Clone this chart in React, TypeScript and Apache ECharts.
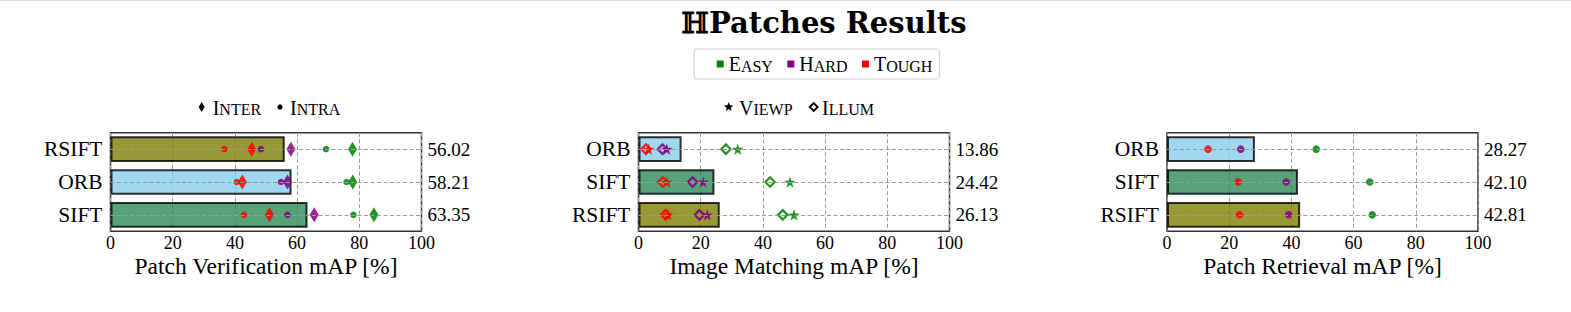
import React, { useEffect, useRef } from "react";
import * as echarts from "echarts";

// ---------- data (categories listed bottom -> top, as the category axis draws them) ----------
const verifCats = ["SIFT", "ORB", "RSIFT"];
const verifMean = [63.35, 58.21, 56.02];
const verifInterEasy = [84.7, 77.9, 77.8];
const verifInterHard = [65.5, 56.9, 58.0];
const verifInterTough = [51.1, 42.4, 45.4];
const verifIntraEasy = [78.1, 75.9, 69.3];
const verifIntraHard = [56.9, 54.8, 48.4];
const verifIntraTough = [42.9, 40.6, 36.6];

const matchCats = ["RSIFT", "SIFT", "ORB"];
const matchMean = [26.13, 24.42, 13.86];
const matchViewpEasy = [50.0, 48.7, 31.9];
const matchViewpHard = [22.1, 20.8, 9.1];
const matchViewpTough = [9.4, 9.1, 3.2];
const matchIllumEasy = [46.4, 42.3, 28.1];
const matchIllumHard = [19.6, 17.4, 7.7];
const matchIllumTough = [8.7, 7.8, 2.4];

const retrCats = ["RSIFT", "SIFT", "ORB"];
const retrMean = [42.81, 42.1, 28.27];
const retrEasy = [66.0, 65.2, 48.0];
const retrHard = [39.1, 38.3, 23.7];
const retrTough = [23.3, 22.9, 13.2];

const xTicks = [0, 20, 40, 60, 80, 100];
const axisNames = ["Patch Verification mAP [%]", "Image Matching mAP [%]", "Patch Retrieval mAP [%]"];
const legendNames = ["Easy", "Hard", "Tough"];

// ---------- styles ----------
const METHOD_COLORS: Record<string, string> = { RSIFT: "#808000", ORB: "#87CEEB", SIFT: "#2E8B57" };
const LEVEL_COLORS = ["#008000", "#800080", "#ff0000"];
const SERIF = "'Liberation Serif', 'Times New Roman', serif";
const GRID_LEFTS = [110.5, 638.5, 1167];
const GRID_W = 311;
const GRID_TOP = 132.7;
const GRID_H = 98.6;
const GRID_LINE = "#9a9a9a";
const STAR =
  "path://M0,-1L0.2245,-0.309L0.951,-0.309L0.363,0.118L0.588,0.809L0,0.382L-0.588,0.809L-0.363,0.118L-0.951,-0.309L-0.2245,-0.309Z";

const smallCaps = (s: string) => `{a|${s[0]}}{b|${s.slice(1).toUpperCase()}}`;
const scRich = {
  a: { fontFamily: SERIF, fontSize: 20, color: "#000", lineHeight: 20, verticalAlign: "bottom" },
  b: { fontFamily: SERIF, fontSize: 16, color: "#000", lineHeight: 20, verticalAlign: "bottom" },
};

export default function App() {
  const ref = useRef<HTMLDivElement>(null);

  useEffect(() => {
    if (!ref.current) return;
    const chart = echarts.init(ref.current, null, { renderer: "svg" });

    const panels = [
      { cats: verifCats, mean: verifMean },
      { cats: matchCats, mean: matchMean },
      { cats: retrCats, mean: retrMean },
    ];

    const grids = panels.map((_, p) => ({
      left: GRID_LEFTS[p],
      top: GRID_TOP,
      width: GRID_W,
      height: GRID_H,
      show: true,
      borderColor: "#333",
      borderWidth: 1.5,
      backgroundColor: "transparent",
    }));

    const xAxes = panels.map((_, p) => ({
      type: "value",
      gridIndex: p,
      min: xTicks[0],
      max: xTicks[xTicks.length - 1],
      interval: 20,
      name: `{n|${axisNames[p]}}`,
      nameLocation: "middle",
      nameGap: 23,
      nameTextStyle: {
        fontFamily: SERIF,
        fontSize: 23.5,
        color: "#000",
        rich: { n: { fontFamily: SERIF, fontSize: 23.5, color: "#000" } },
      },
      axisLine: { show: false },
      axisTick: { show: false },
      axisLabel: { fontFamily: SERIF, fontSize: 18, color: "#000", margin: 3 },
      splitLine: { show: true, lineStyle: { color: GRID_LINE, type: [4, 2.5], width: 1 } },
    }));

    const yAxes: any[] = [];
    panels.forEach((pn, p) => {
      yAxes.push({
        type: "category",
        gridIndex: p,
        data: pn.cats,
        axisLine: { show: false },
        axisTick: { show: false },
        splitLine: { show: false },
        axisLabel: { fontFamily: SERIF, fontSize: 21.5, color: "#000", margin: 8 },
      });
      yAxes.push({
        type: "category",
        gridIndex: p,
        position: "right",
        data: pn.mean.map((v) => v.toFixed(2)),
        axisLine: { show: false },
        axisTick: { show: false },
        splitLine: { show: false },
        axisLabel: { fontFamily: SERIF, fontSize: 19, color: "#000", margin: 6 },
      });
    });

    const series: any[] = [];
    const scatter = (p: number, name: string, vals: number[], color: string, symbol: string, size: any, extra: any = {}) => ({
      type: "scatter",
      name,
      xAxisIndex: p,
      yAxisIndex: 2 * p,
      symbol,
      symbolSize: size,
      data: vals.map((v, i) => [v, i]),
      itemStyle: { color, opacity: 0.85, ...extra },
      z: 4,
      silent: true,
    });

    panels.forEach((pn, p) => {
      // horizontal dashed grid lines at bar centres
      series.push({
        type: "scatter",
        xAxisIndex: p,
        yAxisIndex: 2 * p,
        data: [],
        z: 1,
        silent: true,
        markLine: {
          silent: true,
          symbol: ["none", "none"],
          label: { show: false },
          lineStyle: { color: GRID_LINE, type: [4, 2.5], width: 1 },
          data: pn.cats.map((_, i) => ({ yAxis: i })),
        },
      });
      series.push({
        type: "bar",
        xAxisIndex: p,
        yAxisIndex: 2 * p,
        barWidth: 25.6,
        z: 2,
        silent: true,
        data: pn.mean.map((v, i) => ({ value: v, itemStyle: { color: METHOD_COLORS[pn.cats[i]] } })),
        itemStyle: { borderColor: "#000", borderWidth: 2, opacity: 0.8 },
      });
    });

    // panel 1: Inter (thin diamond) and Intra (dot)
    const inter = [verifInterEasy, verifInterHard, verifInterTough];
    const intra = [verifIntraEasy, verifIntraHard, verifIntraTough];
    for (let k = 0; k < 3; k++) {
      series.push(scatter(0, legendNames[k], intra[k], LEVEL_COLORS[k], "circle", 6.5));
      series.push(scatter(0, legendNames[k], inter[k], LEVEL_COLORS[k], "diamond", [9, 15]));
    }
    // panel 2: Viewp (star) and Illum (open diamond)
    const viewp = [matchViewpEasy, matchViewpHard, matchViewpTough];
    const illum = [matchIllumEasy, matchIllumHard, matchIllumTough];
    for (let k = 0; k < 3; k++) {
      series.push(
        scatter(1, legendNames[k], illum[k], "rgba(255,255,255,0)", "diamond", 9.5, {
          borderColor: LEVEL_COLORS[k],
          borderWidth: 2.2,
        })
      );
      series.push(scatter(1, legendNames[k], viewp[k], LEVEL_COLORS[k], STAR, 11.5));
    }
    // panel 3: dots
    const retr = [retrEasy, retrHard, retrTough];
    for (let k = 0; k < 3; k++) {
      series.push(scatter(2, legendNames[k], retr[k], LEVEL_COLORS[k], "circle", 7.5));
    }

    const legendY = 107.5;
    const graphic: any[] = [
      { type: "line", shape: { x1: 0, y1: 0.5, x2: 1571, y2: 0.5 }, style: { stroke: "#dcdcdc", lineWidth: 1 } },
      // panel 1 marker legend
      {
        type: "polygon",
        shape: { points: [[198.7, legendY - 0.5], [201.7, legendY - 5.5], [204.7, legendY - 0.5], [201.7, legendY + 4.5]] },
        style: { fill: "#000" },
      },
      { type: "text", x: 212.7, y: legendY, style: { text: smallCaps("Inter"), rich: scRich, verticalAlign: "middle" } },
      { type: "circle", shape: { cx: 280, cy: legendY - 0.5, r: 2.6 }, style: { fill: "#000" } },
      { type: "text", x: 290, y: legendY, style: { text: smallCaps("Intra"), rich: scRich, verticalAlign: "middle" } },
      // panel 2 marker legend
      {
        type: "polygon",
        shape: {
          points: [0, 1, 2, 3, 4, 5, 6, 7, 8, 9].map((j) => {
            const r = j % 2 === 0 ? 5 : 2.1;
            const a = -Math.PI / 2 + (j * Math.PI) / 5;
            return [728.7 + r * Math.cos(a), legendY - 0.5 + r * Math.sin(a)];
          }),
        },
        style: { fill: "#000" },
      },
      { type: "text", x: 739, y: legendY, style: { text: smallCaps("Viewp"), rich: scRich, verticalAlign: "middle" } },
      {
        type: "polygon",
        shape: { points: [[809.7, legendY - 0.5], [813.7, legendY - 4.5], [817.7, legendY - 0.5], [813.7, legendY + 3.5]] },
        style: { fill: "#fff", stroke: "#000", lineWidth: 1.8 },
      },
      { type: "text", x: 822, y: legendY, style: { text: smallCaps("Illum"), rich: scRich, verticalAlign: "middle" } },
    ];

    chart.setOption({
      animation: false,
      backgroundColor: "#fff",
      textStyle: { fontFamily: SERIF },
      title: {
        text: "ℍPatches Results",
        left: 819,
        textAlign: "center",
        top: 3,
        textStyle: { fontFamily: "'DejaVu Serif', serif", fontWeight: "bold", fontSize: 29, color: "#000" },
      },
      legend: {
        left: 694,
        top: 49,
        orient: "horizontal",
        selectedMode: false,
        icon: "rect",
        itemWidth: 7,
        itemHeight: 7,
        itemGap: 14.4,
        padding: [5, 7, 5, 22.7],
        backgroundColor: "#fff",
        borderColor: "#cccccc",
        borderWidth: 1,
        borderRadius: 3,
        data: legendNames.map((n, k) => ({ name: n, itemStyle: { color: LEVEL_COLORS[k], opacity: 1, borderWidth: 0 } })),
        formatter: (n: string) => smallCaps(n),
        textStyle: { fontFamily: SERIF, rich: scRich },
      },
      grid: grids,
      xAxis: xAxes,
      yAxis: yAxes,
      series,
      graphic,
    });

    return () => chart.dispose();
  }, []);

  return <div ref={ref} style={{ position: "fixed", left: 0, top: 0, width: 1571, height: 312 }} />;
}
